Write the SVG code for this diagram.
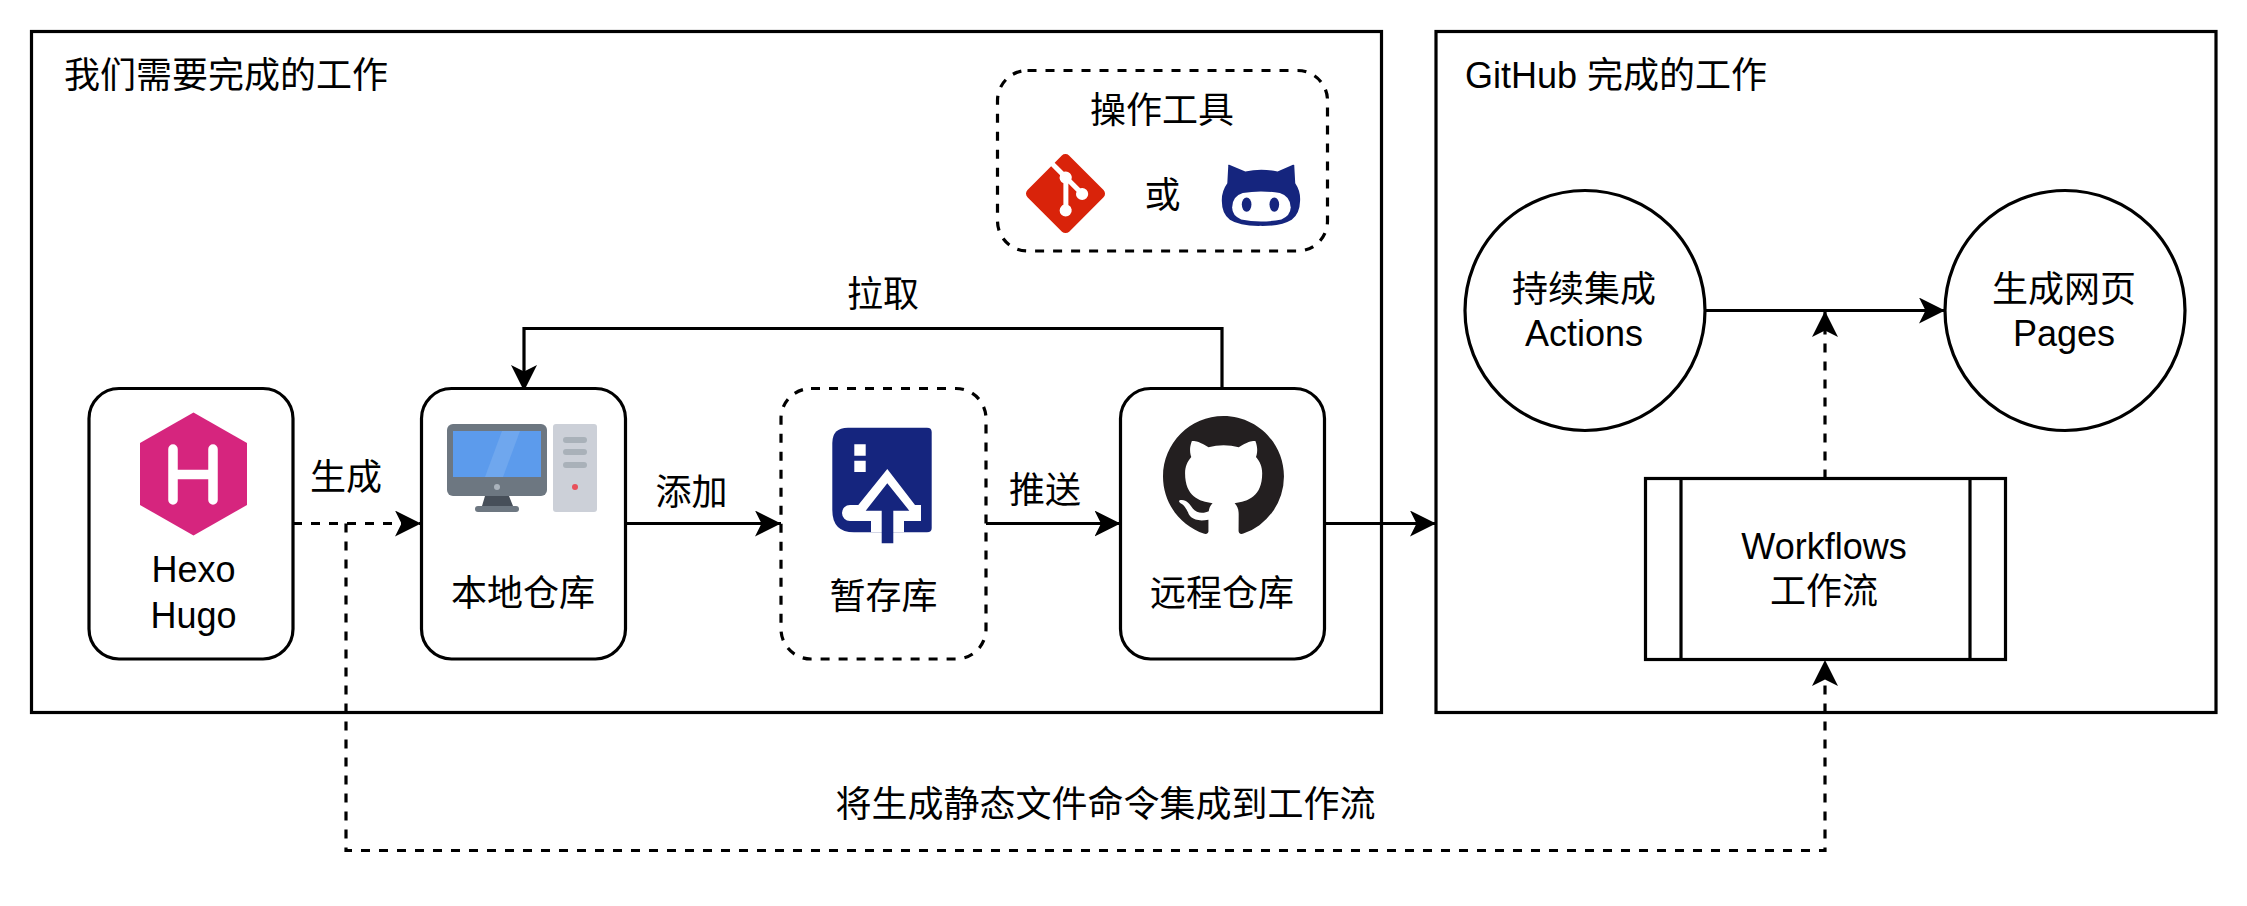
<svg xmlns="http://www.w3.org/2000/svg" width="2247" height="906" viewBox="0 0 2247 906">
<style>
text{font-family:"Liberation Sans","Noto Sans CJK SC",sans-serif;font-size:36px;fill:#000;text-anchor:middle}
.s{text-anchor:start}
.b{fill:#fff;stroke:#000;stroke-width:3.2}
.n{fill:none;stroke:#000;stroke-width:3.2}
.d{stroke-dasharray:9 9}
.c{fill:none;stroke:#000;stroke-width:3.2}
</style>
<defs>
<marker id="a" markerUnits="userSpaceOnUse" markerWidth="30" markerHeight="30" refX="26" refY="13" orient="auto"><path d="M0 0L26 13L0 26L6.5 13Z" fill="#000"/></marker>
</defs>
<rect width="2247" height="906" fill="#fff"/>
<g id="panel-left"><rect class="n" x="31.5" y="31.5" width="1350" height="681"/><text class="s" x="64" y="87.500">我们需要完成的工作</text></g>
<g id="panel-right"><rect class="n" x="1436" y="31.5" width="780" height="681"/><text class="s" x="1465" y="87.500">GitHub 完成的工作</text></g>
<g id="connectors">
<path class="c d" d="M293 523.500H421" marker-end="url(#a)"/>
<path class="c d" d="M346 523.500V850.500H1825V660" marker-end="url(#a)"/>
<path class="c" d="M625.500 523.500H781" marker-end="url(#a)"/>
<path class="c" d="M986 523.500H1120.500" marker-end="url(#a)"/>
<path class="c" d="M1324.500 523.500H1436" marker-end="url(#a)"/>
<path class="c" d="M1222 389V328.500H524V391" marker-end="url(#a)"/>
<path class="c" d="M1705 310.500H1945" marker-end="url(#a)"/>
<path class="c d" d="M1825 478.500V311" marker-end="url(#a)"/>
</g>
<g id="labels">
<text x="346" y="490">生成</text>
<text x="691.500" y="505">添加</text>
<text x="1045" y="503">推送</text>
<text x="883" y="307">拉取</text>
<text x="1105.500" y="817">将生成静态文件命令集成到工作流</text>
</g>
<g id="tools">
<rect class="n d" x="997.500" y="70.500" width="330" height="180.500" rx="30"/>
<text x="1162" y="123">操作工具</text>
<text x="1162.500" y="207.500">或</text>
<path transform="translate(1026 154) scale(.86)" fill="#d9230a" d="M90.156 41.965 50.036 1.848a5.918 5.918 0 0 0-8.372 0l-8.328 8.332 10.566 10.566a7.03 7.03 0 0 1 7.23 1.684 7.034 7.034 0 0 1 1.669 7.277l10.187 10.184a7.028 7.028 0 0 1 7.278 1.672 7.04 7.04 0 0 1 0 9.957 7.05 7.05 0 0 1-9.965 0 7.044 7.044 0 0 1-1.528-7.66l-9.5-9.497V59.36a7.04 7.04 0 0 1 1.86 11.29 7.04 7.04 0 0 1-9.957 0 7.04 7.04 0 0 1 0-9.958 7.06 7.06 0 0 1 2.304-1.539V33.926a7.049 7.049 0 0 1-3.82-9.234L29.242 14.272 1.73 41.777a5.925 5.925 0 0 0 0 8.371L41.852 90.27a5.925 5.925 0 0 0 8.37 0l39.934-39.934a5.925 5.925 0 0 0 0-8.371"/>
<g transform="translate(1217 156) scale(.322)">
<path fill="#15257e" d="M35 30Q33 26 38 27L88 48Q137 38 188 48L236 27Q241 26 240 31L243 85Q260 110 258 140Q257 180 232 198Q200 218 135 217Q70 218 40 198Q15 180 15 140Q14 110 32 85Z"/>
<path fill="#fff" d="M80 115Q135 105 195 115Q228 125 229 160Q228 185 200 197Q135 210 75 197Q47 185 47 160Q47 125 80 115Z"/>
<ellipse fill="#15257e" cx="92" cy="151" rx="15" ry="22"/>
<ellipse fill="#15257e" cx="178" cy="151" rx="15" ry="22"/>
</g>
</g>
<g id="node-hexo">
<rect class="b" x="89" y="388.500" width="204" height="270.500" rx="30"/>
<path fill="#d6257e" d="M193.500 412.500L247 443V505L193.500 535.500L140 505V443Z"/>
<path fill="none" stroke="#fff" stroke-width="9.500" stroke-linecap="round" d="M173 449V500M213 449V500M173 474.500H213"/>
<text x="193.500" y="582">Hexo</text><text x="193.500" y="628">Hugo</text>
</g>
<g id="node-local">
<rect class="b" x="421.500" y="388.500" width="204" height="270.500" rx="30"/>
<rect x="447" y="424" width="100" height="72" rx="6" fill="#6d7781"/>
<rect x="453" y="431" width="88" height="46" fill="#5c9bec"/>
<path d="M502 431H520L503 477H485Z" fill="#6fa7ee"/>
<circle cx="497" cy="487" r="3" fill="#aab3bc"/>
<path d="M482 506L485 496H509L513 506Z" fill="#474f59"/>
<rect x="475" y="506" width="44" height="6" rx="3" fill="#6d7781"/>
<rect x="553" y="424" width="44" height="88" rx="3" fill="#ccd0d8"/>
<rect x="563" y="437" width="24" height="6" rx="3" fill="#a9b1b9"/>
<rect x="563" y="449" width="24" height="6" rx="3" fill="#a9b1b9"/>
<rect x="563" y="462" width="24" height="6" rx="3" fill="#a9b1b9"/>
<circle cx="575" cy="487" r="3" fill="#e8505b"/>
<text x="523" y="606">本地仓库</text>
</g>
<g id="node-stash">
<rect class="b d" x="781" y="388.500" width="205" height="270.500" rx="30"/>
<path fill="#15257e" d="M848 427.700H927Q931.700 427.700 931.700 432V528Q931.700 532.300 927 532.300H854Q832.300 532.300 832.300 510V443Q832.300 427.700 848 427.700Z"/>
<path fill="#fff" d="M887.300 469L915 505H921V521H904V532.300H871V521H850A8 8 0 0 1 850 505H858.300Z"/>
<path fill="#15257e" d="M887.300 483.300L909.300 510.700H893.300V543.300H881.700V510.700H865.700Z"/>
<path fill="#fff" d="M854.300 444.300H865.700V455.700H854.300ZM854.300 460.700H865.700V472H854.300Z"/>
<text x="883.500" y="609">暂存库</text>
</g>
<g id="node-remote">
<rect class="b" x="1120.500" y="388.500" width="204" height="270.500" rx="30"/>
<path transform="translate(1163 416) scale(7.56)" fill="#231f20" fill-rule="evenodd" d="M8 0C3.58 0 0 3.58 0 8c0 3.54 2.29 6.53 5.47 7.59.4.07.55-.17.55-.38 0-.19-.01-.82-.01-1.49-2.01.37-2.53-.49-2.69-.94-.09-.23-.48-.94-.82-1.13-.28-.15-.68-.52-.01-.53.63-.01 1.08.58 1.23.82.72 1.21 1.87.87 2.33.66.07-.52.28-.87.51-1.07-1.78-.2-3.64-.89-3.64-3.95 0-.87.31-1.59.82-2.15-.08-.2-.36-1.02.08-2.12 0 0 .67-.21 2.2.82.64-.18 1.32-.27 2-.27.68 0 1.36.09 2 .27 1.53-1.04 2.2-.82 2.2-.82.44 1.1.16 1.92.08 2.12.51.56.82 1.27.82 2.15 0 3.07-1.87 3.75-3.65 3.95.29.25.54.73.54 1.48 0 1.07-.01 1.93-.01 2.2 0 .21.15.46.55.38A8.013 8.013 0 0016 8c0-4.42-3.58-8-8-8z"/>
<text x="1222" y="606">远程仓库</text>
</g>
<g id="node-actions"><circle class="b" cx="1585" cy="310.500" r="120"/><text x="1584" y="302">持续集成</text><text x="1584" y="345.500">Actions</text></g>
<g id="node-pages"><circle class="b" cx="2065" cy="310.500" r="120"/><text x="2064" y="302">生成网页</text><text x="2064" y="345.500">Pages</text></g>
<g id="node-workflows">
<rect class="b" x="1645.500" y="478.500" width="360" height="181"/>
<path class="n" d="M1681 478.500V659.500M1970 478.500V659.500"/>
<text x="1824" y="558.500">Workflows</text><text x="1824" y="604">工作流</text>
</g>
</svg>
